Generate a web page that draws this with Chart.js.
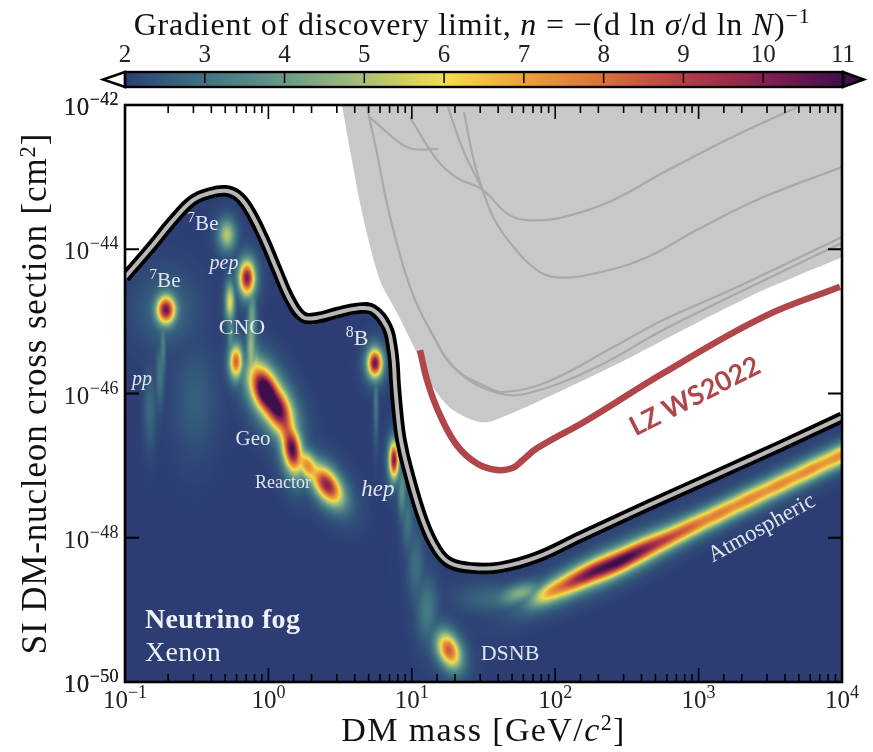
<!DOCTYPE html>
<html>
<head>
<meta charset="utf-8">
<title>Neutrino fog</title>
<script src="https://cdn.jsdelivr.net/npm/chart.js@4"></script>
<style>
body { margin: 0; background: #fff; }
canvas { position: absolute; left: 0; top: 0; }
</style>
</head>
<body>
<canvas id="main_chart" width="873" height="752"></canvas>
<canvas id="bar_chart" width="873" height="105"></canvas>
<script>
// all masses and cross sections below are log10 values

// neutrino fog boundary
const fog_mass = [-1, -0.805, -0.665, -0.526, -0.407, -0.303, -0.219, -0.142, -0.038, 0.06, 0.151, 0.241, 0.339, 0.478, 0.618, 0.729, 0.827, 0.862, 0.876, 0.883, 0.904, 0.925, 0.967, 1.078, 1.176, 1.266, 1.427, 1.615, 1.873, 2.173, 2.64, 3.1, 3.568, 4.0];
const fog_sigma = [-44.39, -43.94, -43.6, -43.32, -43.22, -43.19, -43.25, -43.43, -43.83, -44.29, -44.7, -44.94, -44.95, -44.88, -44.82, -44.84, -45.08, -45.36, -45.61, -45.86, -46.33, -46.65, -47.02, -47.76, -48.17, -48.35, -48.42, -48.41, -48.27, -47.99, -47.56, -47.15, -46.73, -46.33];

// excluded region, lower edge
const excl_mass = [0.513, 0.569, 0.66, 0.778, 0.897, 1.036, 1.148, 1.287, 1.49, 1.664, 2.054, 2.522, 2.989, 3.449, 4.0];
const excl_sigma = [-42, -42.62, -43.55, -44.43, -44.88, -45.44, -45.91, -46.23, -46.4, -46.3, -45.95, -45.5, -45.02, -44.57, -44.11];

// older limits inside the excluded region
const old_limits = [
  { mass: [0.688, 0.757, 0.848, 0.987, 1.127, 1.315, 1.594, 1.824, 2.291, 2.752, 3.219, 4.0], sigma: [-42.03, -42.67, -43.55, -44.52, -45.12, -45.68, -45.99, -45.99, -45.63, -45.12, -44.66, -43.91] },
  { mass: [1.127, 1.287, 1.524, 1.636, 1.943, 2.403, 2.752, 3.219, 4.0], sigma: [-45.12, -45.63, -45.91, -45.98, -45.84, -45.36, -44.98, -44.57, -43.83] },
  { mass: [0.708, 0.918, 1.008, 1.183], sigma: [-42.17, -42.53, -42.61, -42.61] },
  { mass: [0.987, 1.176, 1.315, 1.49, 1.685, 1.873, 2.103, 2.403, 2.752, 3.219, 3.686], sigma: [-42.17, -42.76, -43.01, -43.17, -43.53, -43.6, -43.53, -43.32, -42.94, -42.46, -42.03] },
  { mass: [1.252, 1.357, 1.49, 1.566, 1.685, 1.873, 2.013, 2.291, 2.64, 2.989, 3.449, 4.0], sigma: [-42.03, -42.62, -43.17, -43.55, -43.91, -44.29, -44.39, -44.33, -44.11, -43.73, -43.28, -42.86] },
  { mass: [1.364, 1.427, 1.49], sigma: [-42.1, -42.72, -43.17] }
];

// LZ WS2022 limit
const lz_mass = [1.057, 1.113, 1.197, 1.315, 1.455, 1.594, 1.706, 1.775, 1.873, 2.222, 2.752, 3.449, 3.986];
const lz_sigma = [-45.4, -45.86, -46.3, -46.72, -46.97, -47.06, -47.03, -46.92, -46.76, -46.37, -45.72, -44.94, -44.52];

// gradient n: hot spots inside the fog. spreads are in decades, tilt in decades per decade
const spot_mass = [-0.714, -0.714, -0.149, -0.289, -0.268, -0.226, -0.017, 0.06, 0.123, 0.165, 0.276, 0.409, 0.743, 0.876, 1.259, -0.114, -0.121, -0.086, -0.261, -0.735, -0.756, -0.826, -0.512, 0.75, 0.932, 0.973, 1.029, 1.106, 1.58, 1.754, 1.985, 2.138, 2.278, 2.438, 2.591, 2.766, 2.94, 3.149, 3.358, 3.568, 3.777, 4.0];
const spot_sigma = [-44.84, -44.84, -44.4, -43.8, -44.73, -45.56, -45.98, -46.2, -46.48, -46.77, -47.01, -47.27, -45.58, -46.92, -49.56, -44.98, -45.4, -45.74, -45.19, -45.33, -45.74, -46.23, -46.09, -46.09, -47.34, -47.76, -48.38, -49.0, -48.84, -48.77, -48.73, -48.59, -48.46, -48.34, -48.19, -48.03, -47.86, -47.66, -47.46, -47.26, -47.06, -46.85];
const spot_n = [10.5, 2.8, 10.2, 5.2, 5.9, 8.2, 13, 11.5, 8, 11, 7.5, 10, 10.5, 10.2, 8.4, 4.2, 4.8, 5.2, 3.6, 3.3, 3.1, 2.8, 2.6, 3.1, 3.8, 3.0, 2.9, 3.2, 2.8, 4.5, 6.8, 8.6, 10.2, 10.8, 9.8, 8.6, 8.0, 7.6, 7.5, 7.4, 7.4, 7.4];
const spot_spread_mass = [0.042, 0.14, 0.035, 0.04, 0.022, 0.03, 0.07, 0.07, 0.05, 0.045, 0.06, 0.07, 0.033, 0.022, 0.055, 0.02, 0.022, 0.022, 0.018, 0.014, 0.02, 0.03, 0.1, 0.012, 0.02, 0.03, 0.04, 0.05, 0.18, 0.1, 0.1, 0.16, 0.16, 0.16, 0.16, 0.16, 0.16, 0.16, 0.16, 0.16, 0.16, 0.16];
const spot_spread_sigma = [0.125, 0.35, 0.15, 0.14, 0.17, 0.15, 0.2, 0.2, 0.2, 0.2, 0.13, 0.15, 0.125, 0.16, 0.15, 0.3, 0.3, 0.25, 0.25, 0.3, 0.3, 0.35, 0.5, 0.4, 0.25, 0.3, 0.35, 0.3, 0.14, 0.09, 0.1, 0.11, 0.11, 0.11, 0.11, 0.1, 0.1, 0.1, 0.1, 0.1, 0.1, 0.1];
const spot_tilt = [0, 0, 0, 0, 0, 0, -1.5, -1.5, -2, -1.5, -1.3, -1.3, 0, 0, -1, 0, 0, 0, 0, 0, 0, 0, 0, 0, 0, 0, 0, 0, 0, 0.5, 0.95, 0.95, 0.95, 0.95, 0.95, 0.95, 0.95, 0.95, 0.95, 0.95, 0.95, 0.95];

// colour bar
const bar_ticks = [2, 3, 4, 5, 6, 7, 8, 9, 10, 11];
const cmap_n = [2, 2.5, 3, 4, 5, 5.5, 6, 6.5, 7, 8, 9, 10, 11];
const cmap_colors = ["#2c3d74", "#345a7c", "#3f7381", "#67998a", "#a9c177", "#ccd05e", "#f2dd4f", "#f0c043", "#eba238", "#d9703a", "#b63d44", "#852050", "#3f0f4c"];

// labels in the plot
const label_sup = ["7", "7", "", "", "8", "", "", "", "", ""];
const label_text = ["Be", "Be", "pep", "CNO", "B", "pp", "Geo", "Reactor", "hep", "DSNB"];
const label_mass = [-0.721, -0.456, -0.31, -0.184, 0.618, -0.881, -0.107, 0.102, 0.764, 1.685];
const label_sigma = [-44.43, -43.64, -44.18, -45.07, -45.22, -45.79, -46.62, -47.23, -47.31, -49.59];
const label_italic = ["", "", "italic", "", "", "italic", "", "", "italic", ""];
const label_size = [21, 21, 20, 22, 22, 20, 21, 18, 23, 22];

const serif = '"Liberation Serif", serif';

function pairs(mass, sigma) {
  return mass.map(function (m, i) { return { x: Math.pow(10, m), y: Math.pow(10, sigma[i]) }; });
}

function hex_rgb(h) {
  return [parseInt(h.slice(1, 3), 16), parseInt(h.slice(3, 5), 16), parseInt(h.slice(5, 7), 16)];
}

function colormap(n) {
  if (n <= cmap_n[0]) return hex_rgb(cmap_colors[0]);
  for (let i = 1; i < cmap_n.length; i++) {
    if (n <= cmap_n[i]) {
      let a = hex_rgb(cmap_colors[i - 1]), b = hex_rgb(cmap_colors[i]);
      let t = (n - cmap_n[i - 1]) / (cmap_n[i] - cmap_n[i - 1]);
      return [a[0] + (b[0] - a[0]) * t, a[1] + (b[1] - a[1]) * t, a[2] + (b[2] - a[2]) * t];
    }
  }
  return hex_rgb(cmap_colors[cmap_colors.length - 1]);
}

// text with mixed styles: [text, style, scale, raise]. anchor 0.5 is centred, 1 is right aligned
function draw_runs(ctx, runs, x, y, size, anchor, spacing) {
  ctx.save();
  ctx.letterSpacing = (spacing || 0) + "px";
  ctx.textAlign = "left";
  ctx.textBaseline = "alphabetic";
  let total = 0;
  runs.forEach(function (r) {
    ctx.font = (r[1] || "") + " " + size * (r[2] || 1) + "px " + serif;
    total += ctx.measureText(r[0]).width;
  });
  let pos = x - total * (anchor === undefined ? 0.5 : anchor);
  runs.forEach(function (r) {
    ctx.font = (r[1] || "") + " " + size * (r[2] || 1) + "px " + serif;
    ctx.fillText(r[0], pos, y - (r[3] || 0));
    pos += ctx.measureText(r[0]).width;
  });
  ctx.restore();
}

function power_runs(value) {
  return [["10"], [String(Math.round(Math.log10(value))).replace("-", "−"), "", 0.72, 10]];
}

function is_decade(value) {
  let e = Math.log10(value);
  return Math.abs(e - Math.round(e)) < 1e-6;
}

// paints the n field under the fog curve, cell by cell through the scales
function draw_field(chart) {
  let area = chart.chartArea, xs = chart.scales.x, ys = chart.scales.y, ctx = chart.ctx;
  let w = Math.ceil(area.right - area.left), h = Math.ceil(area.bottom - area.top);
  let off = document.createElement("canvas");
  off.width = w;
  off.height = h;
  let octx = off.getContext("2d");
  let img = octx.createImageData(w, h);

  let lut = [];
  for (let i = 0; i <= 900; i++) lut.push(colormap(2 + i / 100));

  let col_mass = [], row_sigma = [];
  for (let i = 0; i < w; i++) col_mass.push(Math.log10(xs.getValueForPixel(area.left + i + 0.5)));
  for (let j = 0; j < h; j++) row_sigma.push(Math.log10(ys.getValueForPixel(area.top + j + 0.5)));

  for (let j = 0; j < h; j++) {
    for (let i = 0; i < w; i++) {
      let sum = 0;
      for (let s = 0; s < spot_n.length; s++) {
        let dm = col_mass[i] - spot_mass[s];
        let a = dm / spot_spread_mass[s];
        if (a > 10 || a < -10) continue;
        let b = (row_sigma[j] - spot_sigma[s] - spot_tilt[s] * dm) / spot_spread_sigma[s];
        let e = (a * a + b * b) / 2;
        if (e > 45) continue;
        // narrow core with a soft halo
        let c = (spot_n[s] - 2) * (0.86 * Math.exp(-e) + 0.14 * Math.exp(-e / 3.5));
        sum += c * c * c * c;
      }
      let idx = Math.min(900, Math.round(Math.sqrt(Math.sqrt(sum)) * 100));
      let col = lut[idx], p = (j * w + i) * 4;
      img.data[p] = col[0];
      img.data[p + 1] = col[1];
      img.data[p + 2] = col[2];
      img.data[p + 3] = 255;
    }
  }
  octx.putImageData(img, 0, 0);

  ctx.save();
  ctx.beginPath();
  let pts = chart.getDatasetMeta(0).data;
  ctx.moveTo(pts[0].x, pts[0].y);
  pts.forEach(function (p) { ctx.lineTo(p.x, p.y); });
  ctx.lineTo(area.right, area.bottom);
  ctx.lineTo(area.left, area.bottom);
  ctx.closePath();
  ctx.clip();
  ctx.drawImage(off, area.left, area.top);
  ctx.restore();
}

function draw_frame_ticks(chart) {
  let ctx = chart.ctx, area = chart.chartArea, xs = chart.scales.x, ys = chart.scales.y;
  ctx.save();
  ctx.strokeStyle = "#000";
  ctx.fillStyle = "#222";
  ctx.lineWidth = 1.6;
  xs.ticks.forEach(function (t) {
    let px = xs.getPixelForValue(t.value);
    let len = is_decade(t.value) ? 14 : 8;
    ctx.beginPath();
    ctx.moveTo(px, area.bottom);
    ctx.lineTo(px, area.bottom - len);
    ctx.moveTo(px, area.top);
    ctx.lineTo(px, area.top + len);
    ctx.stroke();
    if (is_decade(t.value)) draw_runs(ctx, power_runs(t.value), px, 708, 25);
  });
  ctx.lineWidth = 2;
  ys.ticks.forEach(function (t) {
    if (!is_decade(t.value) || Math.round(Math.log10(t.value)) % 2 !== 0) return;
    let py = ys.getPixelForValue(t.value);
    ctx.beginPath();
    ctx.moveTo(area.left, py);
    ctx.lineTo(area.left + 14, py);
    ctx.moveTo(area.right, py);
    ctx.lineTo(area.right - 14, py);
    ctx.stroke();
    draw_runs(ctx, power_runs(t.value), 119, py + 10, 25, 1, 0.4);
  });
  ctx.lineWidth = 2.6;
  ctx.strokeRect(area.left, area.top, area.right - area.left, area.bottom - area.top);
  ctx.restore();
}

function draw_labels(chart) {
  let ctx = chart.ctx, xs = chart.scales.x, ys = chart.scales.y, area = chart.chartArea;
  function at(m, s) { return [xs.getPixelForValue(Math.pow(10, m)), ys.getPixelForValue(Math.pow(10, s))]; }
  ctx.save();
  ctx.fillStyle = "#dfe5ef";
  label_text.forEach(function (txt, i) {
    let p = at(label_mass[i], label_sigma[i]);
    let size = label_size[i];
    let runs = [[txt, label_italic[i]]];
    if (label_sup[i] !== "") runs.unshift([label_sup[i], "", 0.72, 8]);
    draw_runs(ctx, runs, p[0], p[1] + size * 0.33, size);
  });

  ctx.textAlign = "center";
  ctx.textBaseline = "middle";
  let p = at(3.44, -47.87);
  ctx.save();
  ctx.translate(p[0], p[1]);
  ctx.rotate(-29 * Math.PI / 180);
  ctx.font = "23px " + serif;
  ctx.fillText("Atmospheric", 0, 0);
  ctx.restore();

  p = at(2.975, -46.04);
  ctx.save();
  ctx.translate(p[0], p[1]);
  ctx.rotate(-27 * Math.PI / 180);
  ctx.fillStyle = "#b0454a";
  ctx.font = "bold 27px Lato, sans-serif";
  ctx.fillText("LZ WS2022", 0, 0);
  ctx.restore();

  ctx.fillStyle = "#eef1f6";
  p = at(-0.861, -49.13);
  draw_runs(ctx, [["Neutrino fog", "bold"]], p[0], p[1] + 9, 28, 0, 0.3);
  p = at(-0.861, -49.59);
  draw_runs(ctx, [["Xenon"]], p[0], p[1] + 9, 28, 0, 0.3);

  // axis titles, c is italic
  ctx.fillStyle = "#111";
  draw_runs(ctx, [["DM mass [GeV/"], ["c", "italic"], ["2", "", 0.65, 11], ["]"]], (area.left + area.right) / 2, 741, 34, 0.5, 1.4);
  ctx.translate(46, (area.top + area.bottom) / 2);
  ctx.rotate(-Math.PI / 2);
  draw_runs(ctx, [["SI DM-nucleon cross section [cm"], ["2", "", 0.65, 11], ["]"]], 0, 0, 35, 0.5, 0.85);
  ctx.restore();
}

const fog_plugin = {
  id: "fog_plugin",
  afterDatasetDraw: function (chart, args) {
    if (args.index === 0) draw_field(chart);
  },
  afterDraw: function (chart) {
    draw_labels(chart);
    draw_frame_ticks(chart);
  }
};

let datasets = [
  { data: pairs(fog_mass, fog_sigma), borderWidth: 0, pointRadius: 0, fill: "start", backgroundColor: "#2c3d74", tension: 0.4, order: 6 },
  { data: pairs(excl_mass, excl_sigma), borderWidth: 0, pointRadius: 0, fill: "end", backgroundColor: "#c8c8c8", tension: 0.3, order: 7 }
];
old_limits.forEach(function (l) {
  datasets.push({ data: pairs(l.mass, l.sigma), borderColor: "#a9a9a9", borderWidth: 2.2, pointRadius: 0, fill: false, tension: 0.4, order: 5 });
});
datasets.push({ data: pairs(fog_mass, fog_sigma), borderColor: "#000", borderWidth: 11.5, pointRadius: 0, fill: false, tension: 0.4, order: 3 });
datasets.push({ data: pairs(fog_mass, fog_sigma), borderColor: "#b8b8b8", borderWidth: 4, pointRadius: 0, fill: false, tension: 0.4, order: 2 });
datasets.push({ data: pairs(lz_mass, lz_sigma), borderColor: "#b0454a", borderWidth: 6.5, pointRadius: 0, fill: false, tension: 0.4, order: 1 });

new Chart(document.getElementById("main_chart"), {
  type: "scatter",
  data: { datasets: datasets },
  plugins: [fog_plugin],
  options: {
    responsive: false,
    animation: false,
    showLine: true,
    layout: { padding: { top: 105, right: 31, left: 0, bottom: 0 } },
    plugins: { legend: { display: false }, tooltip: { enabled: false } },
    scales: {
      x: {
        type: "logarithmic",
        min: 0.1,
        max: 10000,
        afterFit: function (s) { s.height = 70; },
        grid: { display: false },
        border: { display: false },
        ticks: { display: false, autoSkip: false }
      },
      y: {
        type: "logarithmic",
        min: 1e-50,
        max: 1e-42,
        afterFit: function (s) { s.width = 125; },
        grid: { display: false },
        border: { display: false },
        ticks: { display: false, autoSkip: false }
      }
    }
  }
});

// colour bar chart
const bar_plugin = {
  id: "bar_plugin",
  afterDraw: function (chart) {
    let ctx = chart.ctx, area = chart.chartArea, xs = chart.scales.x;
    ctx.save();
    ctx.strokeStyle = "#000";
    ctx.lineWidth = 1.5;
    bar_ticks.slice(1, -1).forEach(function (n) {
      let px = xs.getPixelForValue(n);
      ctx.beginPath();
      ctx.moveTo(px, area.top);
      ctx.lineTo(px, area.top + 11);
      ctx.stroke();
    });
    let mid = (area.top + area.bottom) / 2;
    ctx.lineWidth = 2.4;
    ctx.fillStyle = "#fff";
    ctx.beginPath();
    ctx.moveTo(area.left, area.top);
    ctx.lineTo(area.left - 22, mid);
    ctx.lineTo(area.left, area.bottom);
    ctx.closePath();
    ctx.fill();
    ctx.stroke();
    ctx.fillStyle = cmap_colors[cmap_colors.length - 1];
    ctx.beginPath();
    ctx.moveTo(area.right, area.top);
    ctx.lineTo(area.right + 21, mid);
    ctx.lineTo(area.right, area.bottom);
    ctx.closePath();
    ctx.fill();
    ctx.stroke();
    ctx.strokeRect(area.left, area.top, area.right - area.left, area.bottom - area.top);
    ctx.fillStyle = "#111";
    draw_runs(ctx, [["Gradient of discovery limit, "], ["n", "italic"], [" = −(d ln "], ["σ", "italic"], ["/d ln "], ["N", "italic"], [")"], ["−1", "", 0.68, 12]], 472, 35, 32, 0.5, 0.8);
    ctx.restore();
  }
};

new Chart(document.getElementById("bar_chart"), {
  type: "bar",
  data: {
    labels: ["n"],
    datasets: [{
      data: [[bar_ticks[0], bar_ticks[bar_ticks.length - 1]]],
      barPercentage: 1,
      categoryPercentage: 1,
      backgroundColor: function (context) {
        let chart = context.chart;
        if (!chart.chartArea) return cmap_colors[0];
        let g = chart.ctx.createLinearGradient(chart.chartArea.left, 0, chart.chartArea.right, 0);
        cmap_n.forEach(function (n, i) { g.addColorStop((n - 2) / 9, cmap_colors[i]); });
        return g;
      }
    }]
  },
  plugins: [bar_plugin],
  options: {
    indexAxis: "y",
    responsive: false,
    animation: false,
    layout: { padding: { top: 40, bottom: 18, left: 125, right: 30 } },
    plugins: { legend: { display: false }, tooltip: { enabled: false } },
    scales: {
      x: {
        type: "linear",
        position: "top",
        min: 2,
        max: 11,
        afterFit: function (s) { s.height = 32; },
        grid: { display: false, drawTicks: false },
        border: { display: false },
        ticks: { stepSize: 1, padding: 2, maxRotation: 0, color: "#222", font: { family: serif, size: 25 } }
      },
      y: { display: false }
    }
  }
});
</script>
</body>
</html>
